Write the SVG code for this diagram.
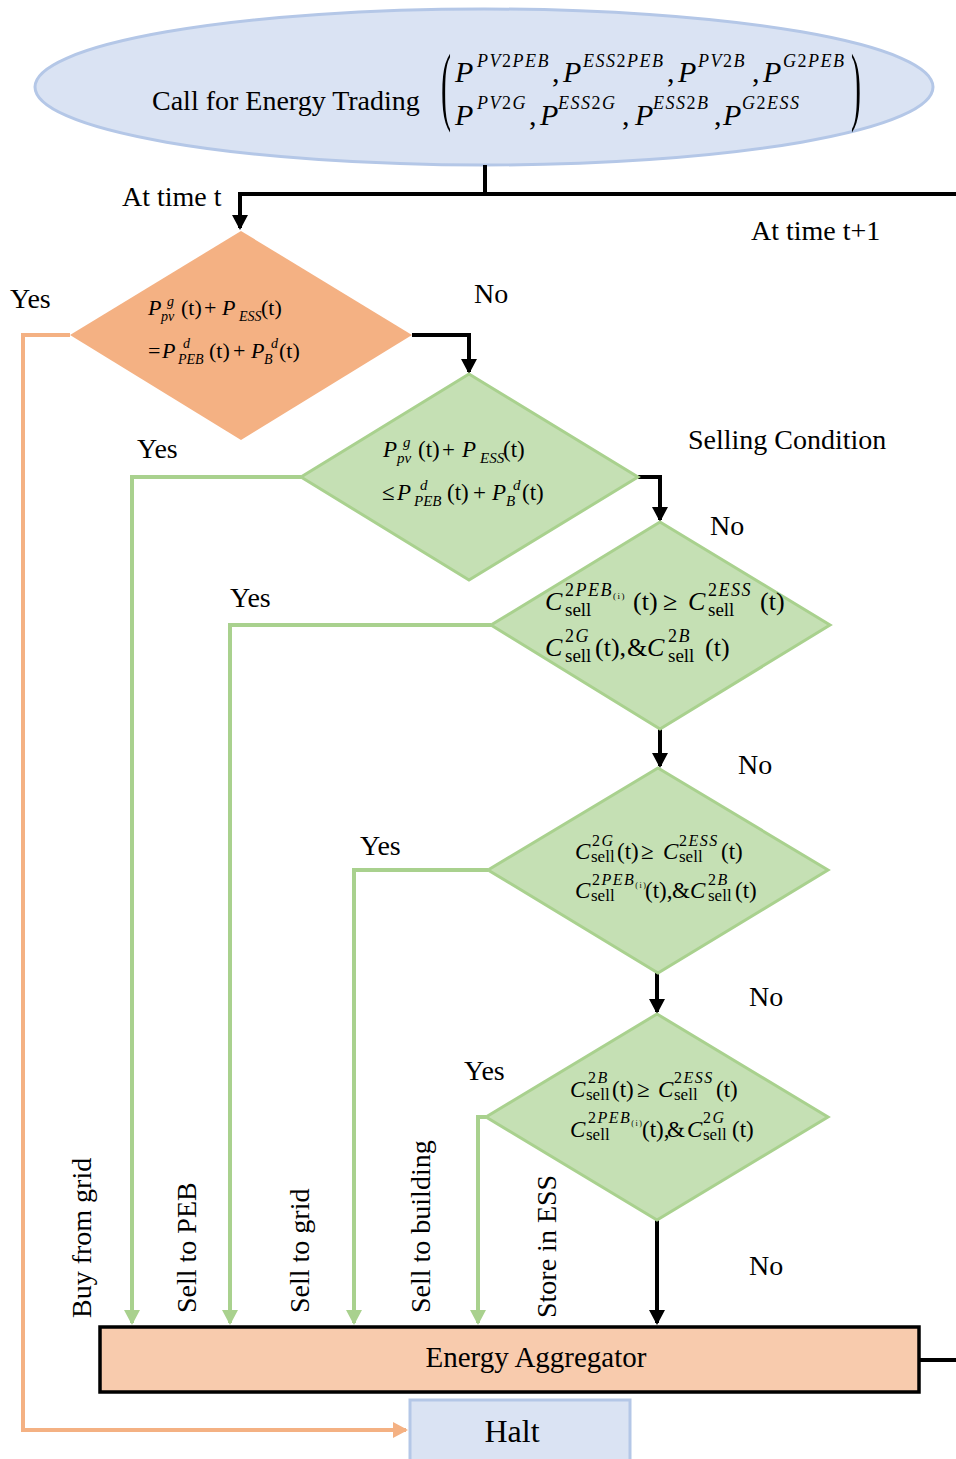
<svg xmlns="http://www.w3.org/2000/svg" width="956" height="1459" viewBox="0 0 956 1459">
<style>
.f{font-family:"Liberation Serif","Times New Roman",serif;fill:#000}
.it{font-style:italic}
.lbl{font-family:"Liberation Serif","Times New Roman",serif;font-size:28px;fill:#000}
.sup{letter-spacing:1.5px}
.cb{fill:none;stroke:#000;stroke-width:4}
.cg{fill:none;stroke:#a9d18e;stroke-width:4}
.co{fill:none;stroke:#f4b183;stroke-width:4}
.dg{fill:#c5e0b4;stroke:#a9d18e;stroke-width:3}
</style>
<defs>
<marker id="ab" markerUnits="userSpaceOnUse" viewBox="0 0 15 16" markerWidth="15" markerHeight="16" refX="13" refY="8" orient="auto"><path d="M0,0 L15,8 L0,16 z" fill="#000"/></marker>
<marker id="ag" markerUnits="userSpaceOnUse" viewBox="0 0 15 16" markerWidth="15" markerHeight="16" refX="13" refY="8" orient="auto"><path d="M0,0 L15,8 L0,16 z" fill="#a9d18e"/></marker>
<marker id="ao" markerUnits="userSpaceOnUse" viewBox="0 0 15 16" markerWidth="15" markerHeight="16" refX="13" refY="8" orient="auto"><path d="M0,0 L15,8 L0,16 z" fill="#f4b183"/></marker>
</defs>

<g id="start">
<ellipse cx="484" cy="87" rx="449" ry="78" fill="#dae3f3" stroke="#b4c7e7" stroke-width="3"/>
<text class="lbl" x="152" y="110">Call for Energy Trading</text>
<text class="f" font-size="30" transform="translate(441,114) scale(1,2.9)">(</text>
<text class="f" font-size="30" transform="translate(851,114) scale(1,2.9)">)</text>
<text class="f" font-size="30">
<tspan class="it" x="455" y="82">P</tspan><tspan class="sup" font-size="18" x="477" y="67"><tspan class="it">PV</tspan>2<tspan class="it">PEB</tspan></tspan><tspan x="552" y="82">,</tspan>
<tspan class="it" x="563" y="82">P</tspan><tspan class="sup" font-size="18" x="583" y="67"><tspan class="it">ESS</tspan>2<tspan class="it">PEB</tspan></tspan><tspan x="667" y="82">,</tspan>
<tspan class="it" x="678" y="82">P</tspan><tspan class="sup" font-size="18" x="698" y="67"><tspan class="it">PV</tspan>2<tspan class="it">B</tspan></tspan><tspan x="752" y="82">,</tspan>
<tspan class="it" x="763" y="82">P</tspan><tspan class="sup" font-size="18" x="783" y="67"><tspan class="it">G</tspan>2<tspan class="it">PEB</tspan></tspan>
</text>
<text class="f" font-size="30">
<tspan class="it" x="455" y="125">P</tspan><tspan class="sup" font-size="18" x="477" y="109"><tspan class="it">PV</tspan>2<tspan class="it">G</tspan></tspan><tspan x="529" y="125">,</tspan>
<tspan class="it" x="540" y="125">P</tspan><tspan class="sup" font-size="18" x="558" y="109"><tspan class="it">ESS</tspan>2<tspan class="it">G</tspan></tspan><tspan x="622" y="125">,</tspan>
<tspan class="it" x="635" y="125">P</tspan><tspan class="sup" font-size="18" x="653" y="109"><tspan class="it">ESS</tspan>2<tspan class="it">B</tspan></tspan><tspan x="714" y="125">,</tspan>
<tspan class="it" x="723" y="125">P</tspan><tspan class="sup" font-size="18" x="742" y="109"><tspan class="it">G</tspan>2<tspan class="it">ESS</tspan></tspan>
</text>
</g>

<g id="connectors">
<path class="cb" d="M485,165 V194"/>
<path class="cb" d="M956,194 H240 V228" marker-end="url(#ab)"/>
<path class="cb" d="M412,335 H469 V372" marker-end="url(#ab)"/>
<path class="cb" d="M638,477 H660 V520" marker-end="url(#ab)"/>
<path class="cb" d="M660,729 V766" marker-end="url(#ab)"/>
<path class="cb" d="M657,973 V1012" marker-end="url(#ab)"/>
<path class="cb" d="M657,1220 V1323" marker-end="url(#ab)"/>
<path class="cb" d="M919,1360 H956"/>
<path class="cg" d="M301,477 H132 V1323" marker-end="url(#ag)"/>
<path class="cg" d="M491,625 H230 V1323" marker-end="url(#ag)"/>
<path class="cg" d="M488,870 H354 V1323" marker-end="url(#ag)"/>
<path class="cg" d="M486,1117 H478 V1323" marker-end="url(#ag)"/>
<path class="co" d="M70,335 H23 V1430 H406" marker-end="url(#ao)"/>
</g>

<g id="labels">
<text class="lbl" x="122" y="206">At time t</text>
<text class="lbl" x="751" y="240">At time t+1</text>
<text class="lbl" x="10" y="308">Yes</text>
<text class="lbl" x="474" y="303">No</text>
<text class="lbl" x="137" y="458">Yes</text>
<text class="lbl" x="688" y="449">Selling Condition</text>
<text class="lbl" x="710" y="535">No</text>
<text class="lbl" x="230" y="607">Yes</text>
<text class="lbl" x="738" y="774">No</text>
<text class="lbl" x="360" y="855">Yes</text>
<text class="lbl" x="749" y="1006">No</text>
<text class="lbl" x="464" y="1080">Yes</text>
<text class="lbl" x="749" y="1275">No</text>
<text class="lbl" transform="translate(91,1318) rotate(-90)">Buy from grid</text>
<text class="lbl" transform="translate(196,1313) rotate(-90)">Sell to PEB</text>
<text class="lbl" transform="translate(309,1313) rotate(-90)">Sell to grid</text>
<text class="lbl" transform="translate(430,1313) rotate(-90)">Sell to building</text>
<text class="lbl" transform="translate(556,1318) rotate(-90)">Store in ESS</text>
</g>

<g id="d1">
<polygon points="241,231 412,335 241,440 70,335" fill="#f4b183"/>
<text class="f" font-size="22">
<tspan class="it" x="148" y="315">P</tspan><tspan class="it" font-size="14" x="167" y="306">g</tspan><tspan class="it" font-size="14" x="161" y="321">pv</tspan><tspan x="181" y="315">(t)</tspan><tspan x="204" y="315">+</tspan><tspan class="it" x="222" y="315">P</tspan><tspan class="it" font-size="14" x="239" y="321">ESS</tspan><tspan x="261" y="315">(t)</tspan>
</text>
<text class="f" font-size="22">
<tspan x="148" y="358">=</tspan><tspan class="it" x="162" y="358">P</tspan><tspan class="it" font-size="14" x="183" y="348">d</tspan><tspan class="it" font-size="14" x="178" y="364">PEB</tspan><tspan x="209" y="358">(t)</tspan><tspan x="233" y="358">+</tspan><tspan class="it" x="251" y="358">P</tspan><tspan class="it" font-size="14" x="271" y="348">d</tspan><tspan class="it" font-size="14" x="264" y="364">B</tspan><tspan x="279" y="358">(t)</tspan>
</text>
</g>

<g id="d2">
<polygon class="dg" points="469,374 638,477 469,580 301,477"/>
<text class="f" font-size="23">
<tspan class="it" x="383" y="457">P</tspan><tspan class="it" font-size="15" x="403" y="447">g</tspan><tspan class="it" font-size="15" x="397" y="463">pv</tspan><tspan x="418" y="457">(t)</tspan><tspan x="442" y="457">+</tspan><tspan class="it" x="462" y="457">P</tspan><tspan class="it" font-size="15" x="480" y="463">ESS</tspan><tspan x="503" y="457">(t)</tspan>
</text>
<text class="f" font-size="23">
<tspan x="382" y="500">≤</tspan><tspan class="it" x="397" y="500">P</tspan><tspan class="it" font-size="15" x="420" y="490">d</tspan><tspan class="it" font-size="15" x="414" y="506">PEB</tspan><tspan x="447" y="500">(t)</tspan><tspan x="473" y="500">+</tspan><tspan class="it" x="492" y="500">P</tspan><tspan class="it" font-size="15" x="513" y="490">d</tspan><tspan class="it" font-size="15" x="506" y="506">B</tspan><tspan x="522" y="500">(t)</tspan>
</text>
</g>

<g id="d3">
<polygon class="dg" points="660,522 830,625 660,729 491,625"/>
<text class="f" font-size="26">
<tspan class="it" x="545" y="610">C</tspan><tspan class="sup" font-size="18" x="565" y="596">2<tspan class="it">PEB</tspan><tspan font-size="9" dy="3">(i)</tspan></tspan><tspan font-size="19" x="565" y="616">sell</tspan><tspan x="633" y="610">(t)</tspan><tspan x="663" y="610">≥</tspan><tspan class="it" x="688" y="610">C</tspan><tspan class="sup" font-size="18" x="708" y="596">2<tspan class="it">ESS</tspan></tspan><tspan font-size="19" x="708" y="616">sell</tspan><tspan x="760" y="610">(t)</tspan>
</text>
<text class="f" font-size="26">
<tspan class="it" x="545" y="656">C</tspan><tspan class="sup" font-size="18" x="565" y="642">2<tspan class="it">G</tspan></tspan><tspan font-size="19" x="565" y="662">sell</tspan><tspan x="595" y="656">(t),</tspan><tspan x="627" y="656">&amp;</tspan><tspan class="it" x="647" y="656">C</tspan><tspan class="sup" font-size="18" x="668" y="642">2<tspan class="it">B</tspan></tspan><tspan font-size="19" x="668" y="662">sell</tspan><tspan x="705" y="656">(t)</tspan>
</text>
</g>

<g id="d4">
<polygon class="dg" points="658,768 828,870 658,973 488,870"/>
<text class="f" font-size="23">
<tspan class="it" x="575" y="859">C</tspan><tspan class="sup" font-size="16" x="592" y="846">2<tspan class="it">G</tspan></tspan><tspan font-size="17" x="591" y="862">sell</tspan><tspan x="617" y="859">(t)</tspan><tspan x="641" y="859">≥</tspan><tspan class="it" x="663" y="859">C</tspan><tspan class="sup" font-size="16" x="679" y="846">2<tspan class="it">ESS</tspan></tspan><tspan font-size="17" x="679" y="862">sell</tspan><tspan x="721" y="859">(t)</tspan>
</text>
<text class="f" font-size="23">
<tspan class="it" x="575" y="898">C</tspan><tspan class="sup" font-size="16" x="592" y="885">2<tspan class="it">PEB</tspan><tspan font-size="8" dy="3">(i)</tspan></tspan><tspan font-size="17" x="591" y="901">sell</tspan><tspan x="645" y="898">(t),</tspan><tspan x="672" y="898">&amp;</tspan><tspan class="it" x="690" y="898">C</tspan><tspan class="sup" font-size="16" x="708" y="885">2<tspan class="it">B</tspan></tspan><tspan font-size="17" x="708" y="901">sell</tspan><tspan x="735" y="898">(t)</tspan>
</text>
</g>

<g id="d5">
<polygon class="dg" points="657,1014 828,1117 657,1220 486,1117"/>
<text class="f" font-size="23">
<tspan class="it" x="570" y="1097">C</tspan><tspan class="sup" font-size="16" x="588" y="1083">2<tspan class="it">B</tspan></tspan><tspan font-size="17" x="586" y="1100">sell</tspan><tspan x="612" y="1097">(t)</tspan><tspan x="637" y="1097">≥</tspan><tspan class="it" x="658" y="1097">C</tspan><tspan class="sup" font-size="16" x="674" y="1083">2<tspan class="it">ESS</tspan></tspan><tspan font-size="17" x="674" y="1100">sell</tspan><tspan x="716" y="1097">(t)</tspan>
</text>
<text class="f" font-size="23">
<tspan class="it" x="570" y="1137">C</tspan><tspan class="sup" font-size="16" x="588" y="1123">2<tspan class="it">PEB</tspan><tspan font-size="8" dy="3">(i)</tspan></tspan><tspan font-size="17" x="586" y="1140">sell</tspan><tspan x="642" y="1137">(t),</tspan><tspan x="667" y="1137">&amp;</tspan><tspan class="it" x="687" y="1137">C</tspan><tspan class="sup" font-size="16" x="703" y="1123">2<tspan class="it">G</tspan></tspan><tspan font-size="17" x="703" y="1140">sell</tspan><tspan x="732" y="1137">(t)</tspan>
</text>
</g>

<g id="aggregator">
<rect x="100" y="1327" width="819" height="65" fill="#f8cbad" stroke="#000" stroke-width="3.5"/>
<text class="f" font-size="29" x="536" y="1367" text-anchor="middle">Energy Aggregator</text>
</g>

<g id="halt">
<rect x="410" y="1400" width="220" height="70" fill="#dae3f3" stroke="#b4c7e7" stroke-width="3"/>
<text class="f" font-size="32" x="512" y="1442" text-anchor="middle">Halt</text>
</g>
</svg>
